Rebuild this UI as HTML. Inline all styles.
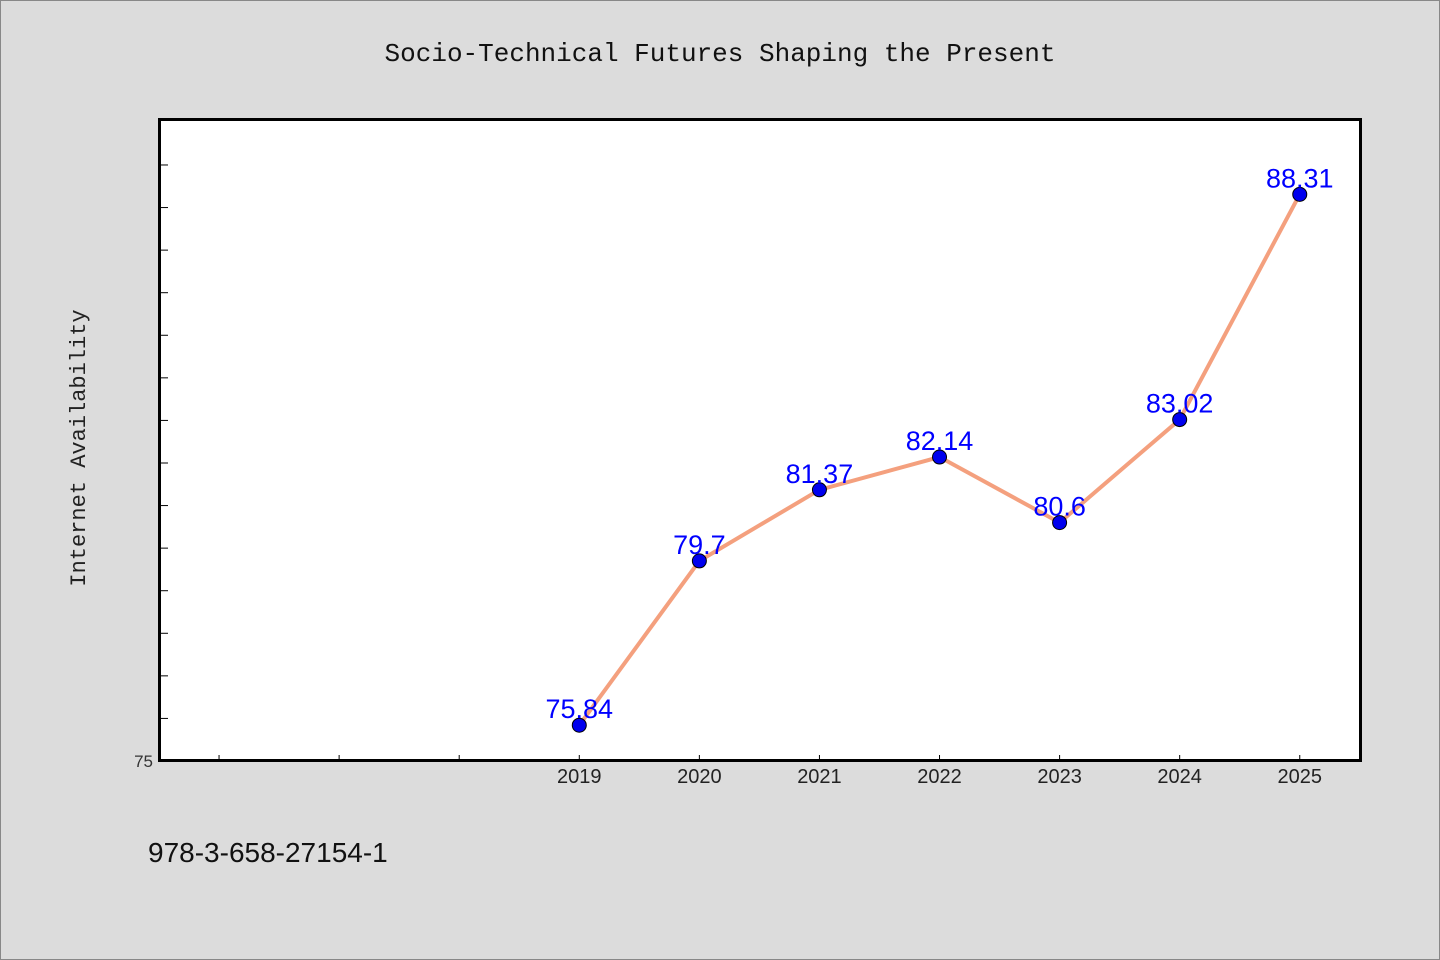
<!DOCTYPE html>
<html><head><meta charset="utf-8"><style>
body{margin:0;background:#dcdcdc;}
svg{display:block;font-family:"Liberation Sans","WenQuanYi Zen Hei",sans-serif;}
</style></head><body>
<svg id="chart" width="1440" height="960" viewBox="0 0 1440 960">
<rect x="0.5" y="0.5" width="1439" height="959" fill="#dcdcdc" stroke="#888"/>
<text x="720" y="61" text-anchor="middle" font-size="26" font-family="'Liberation Mono','WenQuanYi Zen Hei',monospace" fill="#111">Socio-Technical Futures Shaping the Present</text>
<text transform="translate(85,448) rotate(-90)" text-anchor="middle" font-size="22" font-family="'Liberation Mono','WenQuanYi Zen Hei',monospace" fill="#222">Internet Availability</text>
<text x="148" y="862" font-size="28" fill="#111">978-3-658-27154-1</text>
<rect x="159.5" y="119.5" width="1201" height="641" fill="#fff" stroke="#000" stroke-width="3"/>
<g id="ticks"></g><g id="series"></g>
</svg>
<script>
const years=[2019,2020,2021,2022,2023,2024,2025];
const values=[75.84,79.7,81.37,82.14,80.6,83.02,88.31];
const labels=["75.84","79.7","81.37","82.14","80.6","83.02","88.31"];
const minorYears=[2016,2017,2018];
const yTicks=[75,76,77,78,79,80,81,82,83,84,85,86,87,88,89];
const X0=159,X1=1361,Y0=761,Y1=119,xmin=2015.5,xmax=2025.51,ymin=75,ymax=90.08;
const sx=v=>X0+(v-xmin)/(xmax-xmin)*(X1-X0);
const sy=v=>Y0-(v-ymin)/(ymax-ymin)*(Y0-Y1);
const NS="http://www.w3.org/2000/svg";
const tg=document.getElementById('ticks'),sg=document.getElementById('series');
function mk(tag,at,parent){const e=document.createElementNS(NS,tag);for(const k in at)e.setAttribute(k,at[k]);parent.appendChild(e);return e;}
yTicks.forEach(v=>{
 const t=mk('line',{x1:X0,x2:X0+9,y1:sy(v),y2:sy(v),stroke:'#000','stroke-width':1},tg);
 
 
});
const l75=mk('text',{x:X0-6,y:Y0+6,'text-anchor':'end','font-size':17,fill:'#333'},tg);l75.textContent='75';


minorYears.concat(years).forEach(v=>{
 const t=mk('line',{x1:sx(v),x2:sx(v),y1:Y0,y2:Y0-6,stroke:'#000','stroke-width':1},tg);
 
 
});
years.forEach(v=>{
 const t=mk('text',{x:sx(v),y:Y0+22,'text-anchor':'middle','font-size':20,fill:'#222'},tg);t.textContent=v;
 
 
});
const pl=mk('polyline',{points:years.map((y,i)=>sx(y)+','+sy(values[i])).join(' '),fill:'none',stroke:'#f4a07e','stroke-width':4},sg);


years.forEach((y,i)=>{
 const c=mk('circle',{cx:sx(y),cy:sy(values[i]),r:7,fill:'#0000ee',stroke:'#000','stroke-width':1},sg);
 
 
 const t=mk('text',{x:sx(y),y:sy(values[i])-7,'text-anchor':'middle','font-size':27,fill:'#0000ff'},sg);t.textContent=labels[i];
 
 
});
</script>
</body></html>
